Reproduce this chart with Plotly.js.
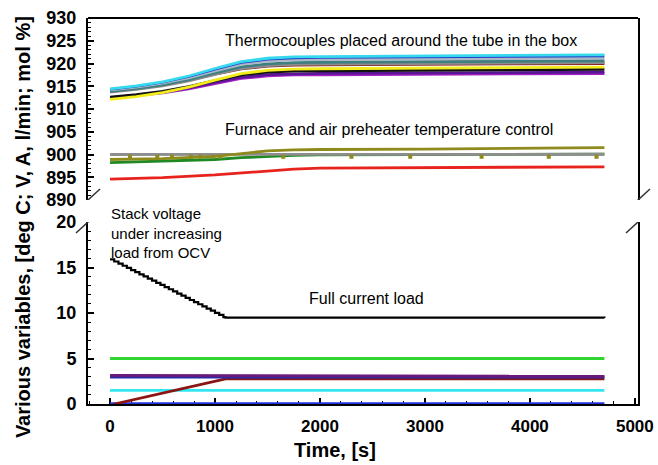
<!DOCTYPE html>
<html>
<head>
<meta charset="utf-8">
<script src="https://cdn.plot.ly/plotly-3.0.1.min.js"></script>
<style>html,body{margin:0;padding:0;background:#fff;}#chart{width:658px;height:465px;}</style>
</head>
<body>
<div id="chart"></div>
<script>
// ---- Upper panel: temperatures (deg C) ----
const tTC = [0, 250, 500, 750, 1000, 1250, 1500, 1750, 2000, 2500, 3000, 3500, 4000, 4500, 4710];
const tcCyan    = [914.4, 915.08, 915.98, 917.25, 918.9, 920.4, 921.15, 921.45, 921.53, 921.6, 921.68, 921.75, 921.83, 921.9, 921.9];
const tcBlue    = [914.3, 914.96, 915.83, 917.07, 918.68, 920.14, 920.87, 921.16, 921.24, 921.31, 921.38, 921.45, 921.53, 921.6, 921.6];
const tcSilver  = [914.2, 914.83, 915.67, 916.86, 918.4, 919.8, 920.5, 920.78, 920.85, 920.92, 920.99, 921.06, 921.13, 921.2, 921.2];
const tcTeal    = [913.9, 914.5, 915.31, 916.45, 917.92, 919.26, 919.93, 920.2, 920.27, 920.33, 920.4, 920.47, 920.53, 920.6, 920.6];
const tcGray    = [913.7, 914.29, 915.07, 916.17, 917.6, 918.9, 919.55, 919.81, 919.88, 919.94, 920.01, 920.07, 920.14, 920.2, 920.2];
const tcMaroon  = [914.1, 914.63, 915.34, 916.34, 917.64, 918.82, 919.41, 919.65, 919.71, 919.76, 919.82, 919.88, 919.94, 920.0, 920.0];
const tcYellow  = [912.1, 912.74, 913.59, 914.8, 916.36, 917.78, 918.49, 918.77, 918.85, 918.92, 918.99, 919.06, 919.13, 919.2, 919.2];
const tcBlack   = [912.6, 913.15, 913.88, 914.92, 916.26, 917.48, 918.09, 918.33, 918.4, 918.46, 918.52, 918.58, 918.64, 918.7, 918.7];
const tcPurple  = [912.5, 913.0, 913.68, 914.63, 915.86, 916.98, 917.54, 917.76, 917.82, 917.88, 917.93, 917.99, 918.04, 918.1, 918.1];
const tcMagenta = [912.4, 912.89, 913.53, 914.45, 915.64, 916.72, 917.26, 917.48, 917.53, 917.58, 917.64, 917.69, 917.75, 917.8, 917.8];

const tF = [0, 500, 1000, 1250, 1500, 1750, 2000, 3000, 4000, 4710];
const furnGray  = [900.0, 900.0, 900.0, 900.0, 900.0, 900.0, 900.0, 900.0, 900.05, 900.05];
const furnOlive = [898.9, 899.1, 899.6, 900.2, 900.8, 901.0, 901.1, 901.2, 901.4, 901.5];
const furnGreen = [898.2, 898.5, 898.9, 899.3, 899.6, 899.8, 899.9, 900.0, 900.1, 900.1];
const furnRed   = [894.6, 894.9, 895.5, 895.9, 896.4, 896.8, 897.0, 897.1, 897.2, 897.3];
const markT = [190, 450, 590, 770, 860, 980, 1050, 1650, 2300, 2860, 3540, 4180, 4635];
const markY = [899.5, 899.5, 899.5, 899.5, 899.5, 899.5, 899.5, 899.5, 899.5, 899.5, 899.5, 899.5, 899.5];

// ---- Lower panel: V, A, l/min, mol % ----
const tV = [0, 40, 80, 120, 160, 200, 240, 280, 320, 360, 400, 440, 480, 520, 560, 600, 640, 680, 720, 760, 800, 840, 880, 920, 960, 1000, 1040, 1080, 1100, 4300, 4710];
const voltage = [15.9, 15.66, 15.43, 15.19, 14.96, 14.72, 14.49, 14.25, 14.02, 13.78, 13.55, 13.31, 13.08, 12.84, 12.61, 12.37, 12.14, 11.9, 11.67, 11.43, 11.2, 10.96, 10.73, 10.49, 10.26, 10.02, 9.79, 9.55, 9.5, 9.5, 9.45];
const tFlat = [0, 4710];
const greenFlat = [5.0, 5.0];
const purpleFlat = [3.15, 3.05];
const violetFlat = [2.95, 2.95];
const cyanFlat = [1.5, 1.5];
const blueFlat = [0.05, 0.05];
const tCur = [40, 1100, 4710];
const current = [0.0, 2.75, 2.75];

const FONT = 'Liberation Sans, Arial, Helvetica, sans-serif';

function ln(x, y, color, yaxis, width) {
  return {x: x, y: y, type: 'scatter', mode: 'lines', yaxis: yaxis, cliponaxis: false,
          line: {color: color, width: width || 2.8}, hoverinfo: 'skip', showlegend: false};
}

const traces = [
  ln(tTC, tcMagenta, '#a21fc0', 'y2'),
  ln(tTC, tcPurple, '#5a1496', 'y2'),
  ln(tTC, tcBlack, '#111111', 'y2'),
  ln(tTC, tcYellow, '#f2ec1c', 'y2'),
  ln(tTC, tcMaroon, '#8a1f1f', 'y2'),
  ln(tTC, tcGray, '#8c8c8c', 'y2'),
  ln(tTC, tcTeal, '#3f7f7f', 'y2'),
  ln(tTC, tcSilver, '#a9b7c6', 'y2'),
  ln(tTC, tcBlue, '#2238c8', 'y2', 2),
  ln(tTC, tcCyan, '#36d8ee', 'y2'),

  ln(tF, furnRed, '#e8231e', 'y2'),
  ln(tF, furnGreen, '#1f8a24', 'y2'),
  ln(tF, furnGray, '#8e8e8e', 'y2'),
  ln(tF, furnOlive, '#8e8a1c', 'y2'),
  {x: markT, y: markY, type: 'scatter', mode: 'markers', yaxis: 'y2', hoverinfo: 'skip', showlegend: false,
   marker: {symbol: 'square', size: 4, color: '#8e8a1c', line: {width: 0}}},

  ln(tFlat, blueFlat, '#2233dd', 'y'),
  ln(tFlat, cyanFlat, '#33e6f0', 'y'),
  ln(tCur, current, '#8b1414', 'y'),
  ln(tFlat, violetFlat, '#2a2aa8', 'y'),
  ln(tFlat, purpleFlat, '#6a1a7a', 'y'),
  ln(tFlat, greenFlat, '#2fd62f', 'y'),
  {x: tV, y: voltage, type: 'scatter', mode: 'lines', yaxis: 'y', hoverinfo: 'skip', showlegend: false,
   line: {color: '#000000', width: 2.2, shape: 'hv'}}
];

const tickFont = {family: FONT, size: 18, color: '#000', weight: 'bold'};

function slash(xpaper, yref, yval) {
  return {type: 'line', xref: 'paper', yref: yref, xsizemode: 'pixel', ysizemode: 'pixel',
          xanchor: xpaper, yanchor: yval, x0: -12, x1: 12, y0: -11, y1: 11,
          line: {color: '#333', width: 1.5}};
}

const layout = {
  width: 658, height: 465,
  margin: {l: 88, r: 20, t: 18, b: 61},
  paper_bgcolor: '#fff', plot_bgcolor: '#fff',
  showlegend: false,
  font: {family: FONT, color: '#000'},
  xaxis: {
    range: [-210, 5030], anchor: 'y', showgrid: false, zeroline: false, layer: 'below traces',
    showline: true, linecolor: '#000', linewidth: 2,
    ticks: 'inside', ticklen: 6, tickwidth: 2, tickcolor: '#000',
    tick0: 0, dtick: 1000, tickfont: {family: FONT, size: 17, color: '#000', weight: 'bold'},
    minor: {ticks: 'inside', dtick: 200, ticklen: 3, tickwidth: 1, tickcolor: '#000'},
    ticklabelstandoff: 6
  },
  yaxis: {
    domain: [0, 0.4715], range: [0, 20], showgrid: false, zeroline: false,
    showline: true, mirror: true, linecolor: '#000', linewidth: 2,
    ticks: 'inside', ticklen: 6, tickwidth: 2, tickcolor: '#000',
    tick0: 0, dtick: 5, tickfont: tickFont,
    minor: {ticks: 'inside', dtick: 1, ticklen: 3, tickwidth: 1, tickcolor: '#000'},
    ticklabelstandoff: 6
  },
  yaxis2: {
    domain: [0.5285, 1], range: [890, 930], anchor: 'x', showgrid: false, zeroline: false,
    showline: true, mirror: true, linecolor: '#000', linewidth: 2,
    ticks: 'inside', ticklen: 6, tickwidth: 2, tickcolor: '#000',
    tick0: 890, dtick: 5, tickfont: tickFont,
    minor: {ticks: 'inside', dtick: 1, ticklen: 3, tickwidth: 1, tickcolor: '#000'},
    ticklabelstandoff: 6
  },
  shapes: [
    {type: 'line', xref: 'paper', yref: 'paper', x0: 0, x1: 1, y0: 1, y1: 1, line: {color: '#000', width: 2}},
    slash(0, 'y2', 890), slash(0, 'y', 20),
    slash(1, 'y2', 890), slash(1, 'y', 20)
  ],
  annotations: [
    {text: 'Thermocouples placed around the tube in the box', xref: 'x', yref: 'y2', x: 1073, y: 925,
     xanchor: 'left', yanchor: 'middle', showarrow: false, font: {family: FONT, size: 16, color: '#000'}},
    {text: 'Furnace and air preheater temperature control', xref: 'x', yref: 'y2', x: 1073, y: 905.4,
     xanchor: 'left', yanchor: 'middle', showarrow: false, font: {family: FONT, size: 16, color: '#000'}},
    {text: 'Stack voltage<br>under increasing<br>load from OCV', xref: 'paper', yref: 'paper', x: 0.038, y: 0.4443,
     xanchor: 'left', yanchor: 'middle', align: 'left', showarrow: false, font: {family: FONT, size: 15, color: '#000'}},
    {text: 'Full current load', xref: 'x', yref: 'y', x: 1873, y: 11.56,
     xanchor: 'left', yanchor: 'middle', showarrow: false, font: {family: FONT, size: 16, color: '#000'}},
    {text: 'Various variables, [deg C; V, A, l/min; mol %]', xref: 'paper', yref: 'paper', x: -0.118, y: 0.4585,
     xanchor: 'center', yanchor: 'middle', textangle: -90, showarrow: false,
     font: {family: FONT, size: 20, color: '#000', weight: 'bold'}},
    {text: 'Time, [s]', xref: 'paper', yref: 'paper', x: 0.449, y: -0.119,
     xanchor: 'center', yanchor: 'middle', showarrow: false,
     font: {family: FONT, size: 20, color: '#000', weight: 'bold'}}
  ]
};

Plotly.newPlot('chart', traces, layout, {displayModeBar: false, staticPlot: true});
</script>
</body>
</html>
